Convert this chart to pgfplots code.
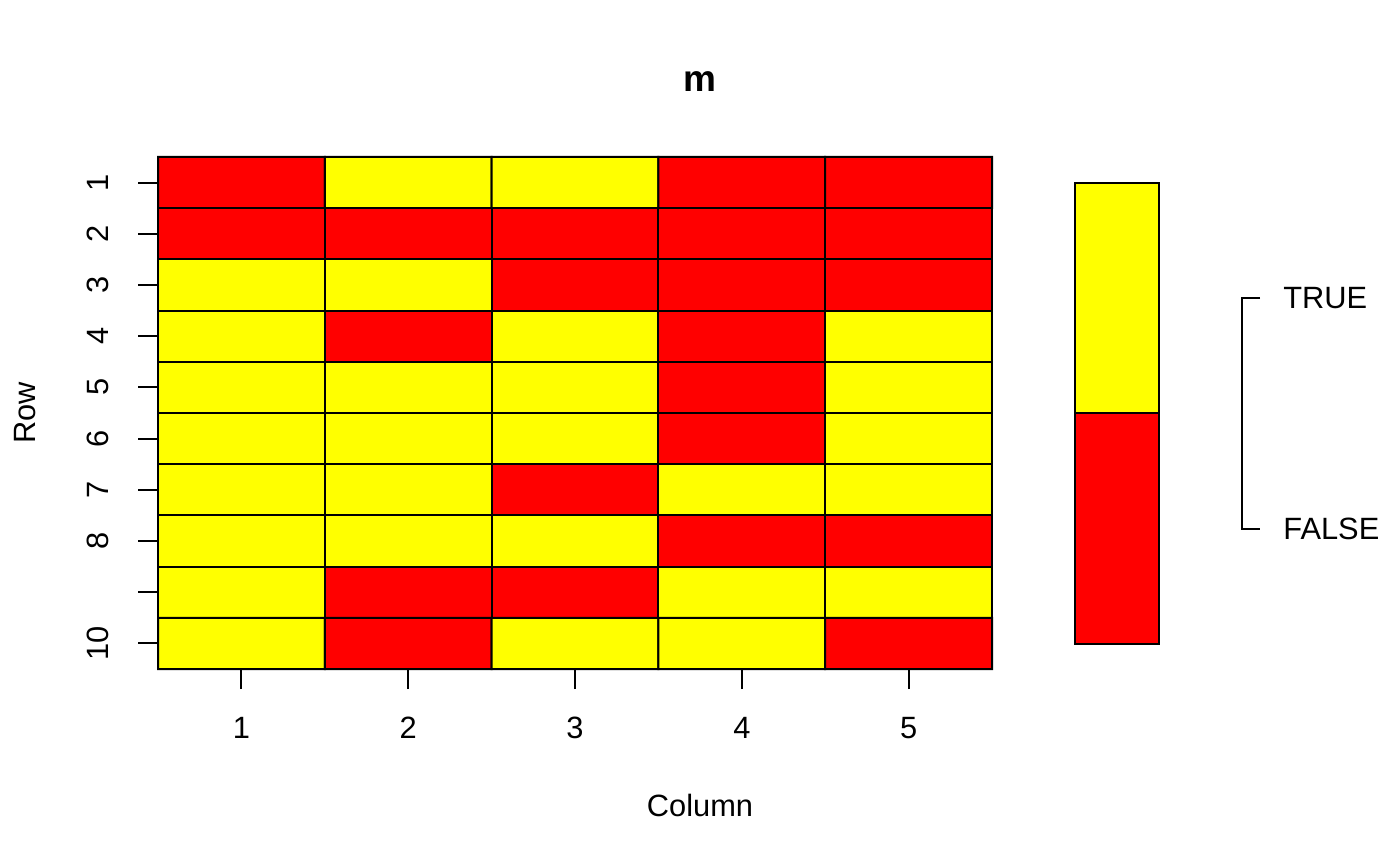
\documentclass[border=0pt]{standalone}
\usepackage{pgfplots}
\pgfplotsset{compat=1.18}
\usepackage{pgfplotstable}
\usepackage{fontspec}
\setmainfont{Liberation Sans}
\definecolor{rred}{RGB}{255,0,0}
\definecolor{ryellow}{RGB}{255,255,0}
\pgfplotstableread{
x y v
1 1 0
2 1 1
3 1 1
4 1 0
5 1 0
1 2 0
2 2 0
3 2 0
4 2 0
5 2 0
1 3 1
2 3 1
3 3 0
4 3 0
5 3 0
1 4 1
2 4 0
3 4 1
4 4 0
5 4 1
1 5 1
2 5 1
3 5 1
4 5 0
5 5 1
1 6 1
2 6 1
3 6 1
4 6 0
5 6 1
1 7 1
2 7 1
3 7 0
4 7 1
5 7 1
1 8 1
2 8 1
3 8 1
4 8 0
5 8 0
1 9 1
2 9 0
3 9 0
4 9 1
5 9 1
1 10 1
2 10 0
3 10 1
4 10 1
5 10 0
}\cells
\pgfplotstableread{
x false true
0 1 1
}\legendtbl
\begin{document}
\fontsize{15.4}{18}\selectfont
\begin{tikzpicture}[x=1pt,y=1pt]
\path[use as bounding box] (0,0) rectangle (700,433);
\begin{axis}[at={(79pt,98.5pt)}, anchor=south west, scale only axis,
  width=417pt, height=256pt,
  xmin=0.5, xmax=5.5, ymin=0.5, ymax=10.5, y dir=reverse,
  colormap={ry}{rgb255=(255,0,0) rgb255=(255,255,0)},
  point meta min=0, point meta max=1,
  axis line style={draw=none}, tick pos=left, tick align=outside,
  major tick length=10pt,
  every tick/.append style={black, line width=1pt},
  major tick style={black, line width=1pt},
  xtick={1,2,3,4,5}, xticklabels={1,2,3,4,5},
  ytick={1,2,3,4,5,6,7,8,9,10}, yticklabels={1,2,3,4,5,6,7,8,,10},
  xticklabel style={anchor=center, yshift=-19.5pt},
  yticklabel style={xshift=-20pt, rotate=90, anchor=center},
  clip=false]
\addplot[matrix plot*, mesh/cols=5, point meta=explicit, draw=black, line width=1pt]
  table[x=x, y=y, meta=v] {\cells};
\end{axis}
\begin{axis}[at={(537.5pt,111pt)}, anchor=south west, scale only axis,
  width=42pt, height=230.5pt,
  xmin=-0.5, xmax=0.5, ymin=0, ymax=2, hide axis,
  ybar stacked, bar width=1, clip=false]
\addplot[fill=rred, draw=black, line width=1pt] table[x=x, y=false] {\legendtbl};
\addplot[fill=ryellow, draw=black, line width=1pt] table[x=x, y=true] {\legendtbl};
\end{axis}
\draw[line width=0.7pt] (630,284) -- (621,284) -- (621,168.5) -- (630,168.5);
\node[anchor=west, inner sep=0pt] at (641.5,284) {TRUE};
\node[anchor=west, inner sep=0pt] at (641.5,168.5) {FALSE};
\node[font=\bfseries\fontsize{18.5}{21}\selectfont] at (350,392) {m};
\node at (350,30.5) {Column};
\node[rotate=90] at (12.5,226.5) {Row};
\end{tikzpicture}
\end{document}
